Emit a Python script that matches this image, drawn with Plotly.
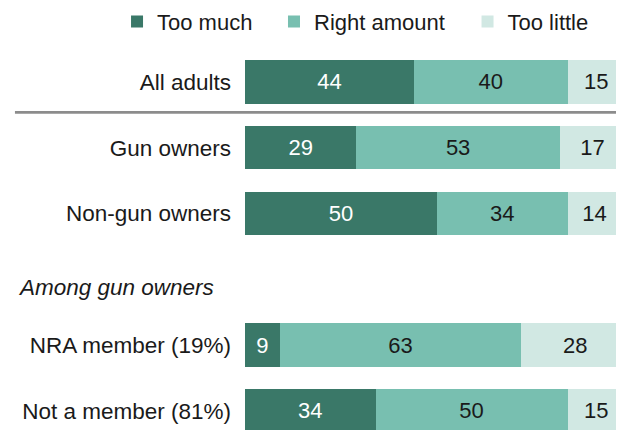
import plotly.graph_objects as go

categories = ["All adults", "Gun owners", "Non-gun owners", " ", "NRA member (19%)", "Not a member (81%)"]
too_much = [44, 29, 50, None, 9, 34]
right_amount = [40, 53, 34, None, 63, 50]
too_little = [15, 17, 14, None, 28, 15]
series_names = ["Too much", "Right amount", "Too little"]
colors = ["#3a7868", "#78bfb0", "#d1e8e3"]
text_colors = ["#ffffff", "#1a1a1a", "#1a1a1a"]
legend_ids = ["legend", "legend2", "legend3"]
FONT = "Liberation Sans, Arial, sans-serif"

fig = go.Figure()
for name, vals, col, tcol, lg in zip(series_names, [too_much, right_amount, too_little],
                                      colors, text_colors, legend_ids):
    fig.add_trace(go.Bar(
        y=categories, x=vals, name=name, orientation="h", legend=lg,
        marker=dict(color=col, line=dict(width=0)),
        text=[("" if v is None else str(v)) for v in vals],
        textposition="inside", insidetextanchor="middle",
        textfont=dict(color=tcol, size=22, family=FONT),
        hoverinfo="skip",
    ))

fig.add_shape(type="line", xref="paper", yref="y", x0=-0.607, x1=1.0, y0=0.4635, y1=0.4635,
              line=dict(color="#8c8c8c", width=2.7))
fig.add_annotation(text="<i>Among gun owners</i>", xref="paper", yref="y", x=-0.604, y=3.13,
                   xanchor="left", yanchor="middle", showarrow=False,
                   font=dict(size=22.5, color="#1a1a1a", family=FONT))

leg_common = dict(orientation="h", xref="container", yref="container",
                  xanchor="left", y=0.9675, yanchor="middle",
                  font=dict(size=22, color="#1a1a1a", family=FONT), itemwidth=30,
                  bgcolor="rgba(0,0,0,0)", borderwidth=0)

fig.update_layout(
    width=616, height=422,
    margin=dict(l=237, r=0, t=41, b=0, autoexpand=False),
    barmode="stack", bargap=0.34,
    paper_bgcolor="white", plot_bgcolor="white",
    font=dict(family=FONT, size=22, color="#1a1a1a"),
    xaxis=dict(range=[0, 98.7], visible=False, fixedrange=True),
    yaxis=dict(type="category", categoryorder="array", categoryarray=categories,
               range=[5.29, -0.5], showgrid=False, zeroline=False, showline=False,
               automargin=False,
               ticks="", ticklabelstandoff=13, tickfont=dict(size=22.5, color="#1a1a1a")),
    legend=dict(x=0.177, **leg_common),
    legend2=dict(x=0.4318, **leg_common),
    legend3=dict(x=0.746, **leg_common),
    showlegend=True,
)

fig.write_html("out.html")
